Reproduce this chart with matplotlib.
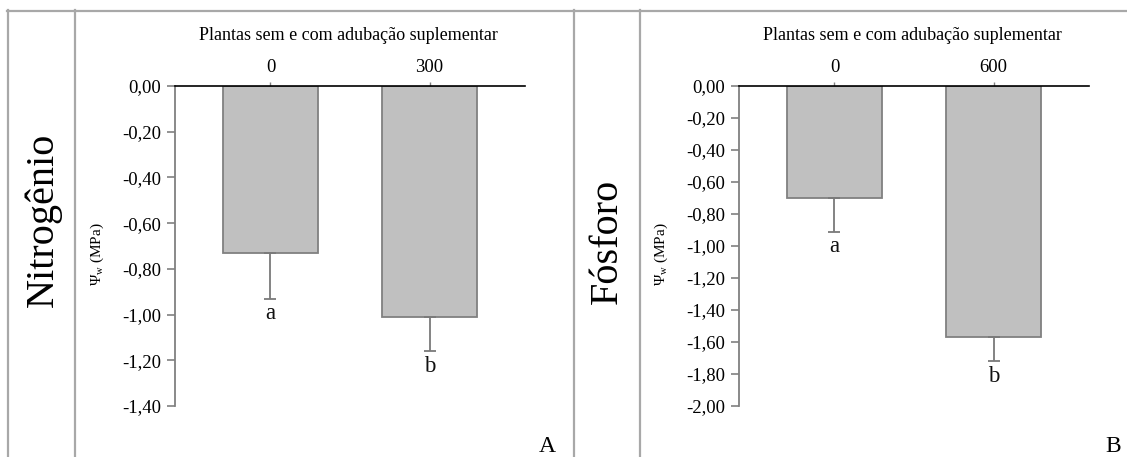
import matplotlib
matplotlib.use("Agg")
import matplotlib.pyplot as plt
from matplotlib.lines import Line2D

plt.rcParams["font.family"] = ["Liberation Serif", "DejaVu Serif"]
plt.rcParams["mathtext.fontset"] = "stix"

# Panel A: nitrogen
n_labels = ["0", "300"]
n_means = [-0.73, -1.01]
n_err = [0.20, 0.15]
n_letters = ["a", "b"]
n_yticks = [0.0, -0.2, -0.4, -0.6, -0.8, -1.0, -1.2, -1.4]

# Panel B: phosphorus
p_labels = ["0", "600"]
p_means = [-0.70, -1.57]
p_err = [0.21, 0.15]
p_letters = ["a", "b"]
p_yticks = [0.0, -0.2, -0.4, -0.6, -0.8, -1.0, -1.2, -1.4, -1.6, -1.8, -2.0]

W, H = 1127, 457
fig = plt.figure(figsize=(W / 100, H / 100), dpi=100)

BAR_FACE = "#c0c0c0"
BAR_EDGE = "#808080"
FRAME = "#a8a8a8"


def fx(px):
    return px / W


def fy(py):
    return 1 - py / H


def panel(left_px, labels, means, errs, letters, yticks, side_title, letter_tag,
          title_y, tag_x, side_y):
    ax = fig.add_axes([fx(left_px), fy(406), fx(350), 320 / H])
    x = list(range(len(means)))
    ax.bar(x, means, width=0.6, color=BAR_FACE, edgecolor=BAR_EDGE,
           linewidth=1.3, zorder=2)
    lower = [[e for e in errs], [0 for _ in errs]]
    ax.errorbar(x, means, yerr=lower, fmt="none", ecolor="#7a7a7a",
                elinewidth=1.3, capsize=4.5, capthick=1.3, zorder=3)
    for xi, m, e, lt in zip(x, means, errs, letters):
        ax.annotate(lt, (xi, m - e), xytext=(0, -11), textcoords="offset points",
                    ha="center", va="center", fontsize=16.5, color="#111111")
    ax.set_xlim(-0.6, 1.6)
    ax.set_ylim(yticks[-1], 0)
    ax.set_yticks(yticks)
    ax.set_yticklabels([f"{v:.2f}".replace(".", ",") for v in yticks])
    ax.xaxis.tick_top()
    ax.set_xticks(x)
    ax.set_xticklabels(labels)
    for s in ("right", "bottom"):
        ax.spines[s].set_visible(False)
    ax.spines["top"].set_color("black")
    ax.spines["top"].set_linewidth(1.2)
    ax.spines["left"].set_color("#808080")
    ax.spines["left"].set_linewidth(1.3)
    ax.tick_params(axis="y", direction="out", length=6, width=1.2,
                   color="#808080", pad=4, labelsize=13.5)
    ax.tick_params(axis="x", direction="out", length=3, width=1.0,
                   color="#808080", pad=4, labelsize=13.5)
    ax.patch.set_visible(False)

    center_px = left_px + 175
    fig.text(fx(center_px - 2), fy(title_y), "Plantas sem e com adubação suplementar",
             ha="center", va="center", fontsize=13)
    fig.text(fx(left_px - 78), fy(254), r"$\mathregular{\Psi_w}$ (MPa)",
             rotation=90, ha="center", va="center", fontsize=11)
    fig.text(fx(left_px - 132), fy(side_y), side_title, rotation=90,
             ha="center", va="center", fontsize=29)
    fig.text(fx(tag_x), fy(446), letter_tag, ha="center", va="center",
             fontsize=17)
    return ax


panel(175, n_labels, n_means, n_err, n_letters, n_yticks, "Nitrogênio", "A",
      35, 547, 220)
panel(739, p_labels, p_means, p_err, p_letters, p_yticks, "Fósforo", "B",
      36, 1113, 241)

# table-style frame around both panels
frame_lines = [
    ((fx(7), fx(W)), (fy(10.5), fy(10.5))),
    ((fx(7.5), fx(7.5)), (fy(10), 0)),
    ((fx(74.5), fx(74.5)), (fy(10), 0)),
    ((fx(573.5), fx(573.5)), (fy(10), 0)),
    ((fx(639.5), fx(639.5)), (fy(10), 0)),
]
for xs, ys in frame_lines:
    fig.add_artist(Line2D(xs, ys, color=FRAME, linewidth=1.6))

fig.savefig("out.png", dpi=100, facecolor="white")
